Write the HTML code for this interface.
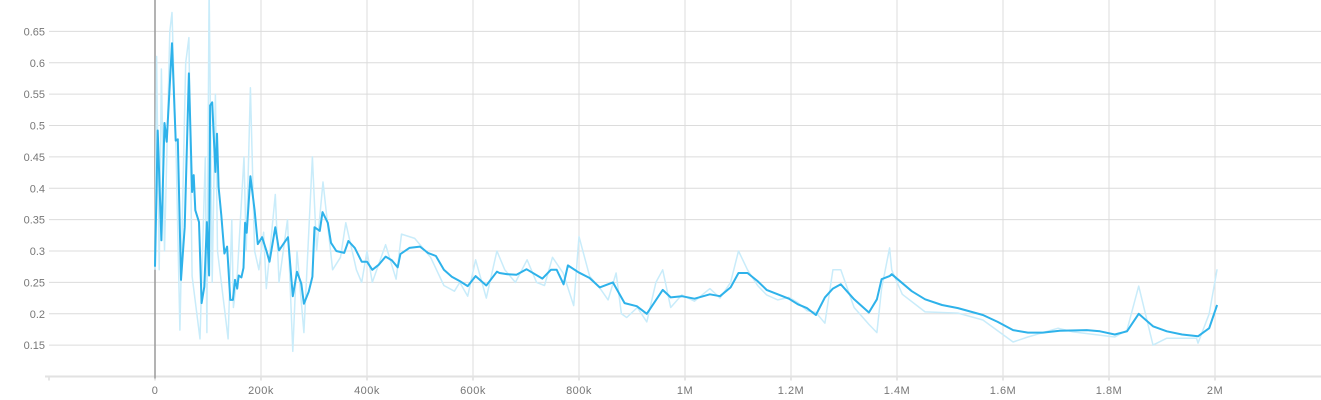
<!DOCTYPE html>
<html><head><meta charset="utf-8"><style>
html,body{margin:0;padding:0;background:#fff;width:1321px;height:400px;overflow:hidden}
svg{display:block;font-family:"Liberation Sans",sans-serif}
</style></head><body>
<svg id="chart" width="1321" height="400" viewBox="0 0 1321 400">
<g id="grid"></g>
<g id="axes"></g>
<g id="series"></g>
</svg>
<script>
const smoothSteps=[0,5,12,18,22,32,39,43,49,56,64,70,73,76,83,88,93,98,102,104,108,114,117,120,125,131,136,142,147,151,155,158,163,167,170,173,180,188,194,202,210,216,227,234,251,260,268,276,281,290,297,301,311,316,326,332,342,357,365,377,390,400,410,422,435,447,458,463,480,500,515,530,545,560,575,590,605,625,645,650,665,682,701,731,747,758,771,779,799,820,839,864,886,909,928,958,973,994,1018,1047,1066,1086,1101,1118,1137,1154,1175,1196,1213,1230,1247,1264,1279,1294,1319,1347,1362,1371,1386,1390,1428,1453,1485,1515,1562,1590,1619,1647,1675,1707,1758,1783,1811,1834,1856,1883,1909,1938,1968,1989,2004];
const smoothValues=[0.275,0.492,0.317,0.504,0.474,0.631,0.476,0.478,0.254,0.338,0.583,0.394,0.421,0.365,0.346,0.217,0.243,0.346,0.261,0.532,0.537,0.426,0.487,0.402,0.357,0.296,0.307,0.222,0.222,0.254,0.24,0.261,0.258,0.273,0.345,0.329,0.419,0.365,0.311,0.322,0.301,0.283,0.338,0.301,0.322,0.228,0.267,0.248,0.216,0.235,0.259,0.338,0.332,0.362,0.345,0.313,0.3,0.297,0.316,0.305,0.283,0.283,0.27,0.278,0.291,0.285,0.274,0.295,0.305,0.307,0.297,0.292,0.27,0.259,0.252,0.244,0.26,0.245,0.267,0.265,0.263,0.262,0.271,0.256,0.27,0.27,0.247,0.277,0.266,0.257,0.242,0.25,0.217,0.212,0.2,0.238,0.226,0.228,0.224,0.231,0.228,0.242,0.265,0.265,0.252,0.238,0.231,0.224,0.215,0.209,0.198,0.226,0.24,0.247,0.223,0.202,0.223,0.255,0.26,0.263,0.236,0.223,0.214,0.209,0.198,0.187,0.174,0.17,0.17,0.173,0.174,0.172,0.167,0.172,0.2,0.18,0.172,0.167,0.164,0.177,0.214];
const rawSteps=[0,3,8,12,18,28,32,40,47,58,64,70,85,95,98,102,108,114,118,135,138,145,148,155,168,172,180,188,196,205,210,227,234,250,260,268,281,297,305,317,335,350,360,380,390,400,410,435,455,465,490,520,545,565,575,590,605,625,645,660,680,702,720,735,750,770,790,800,820,840,855,870,880,890,910,928,945,958,973,994,1018,1047,1066,1086,1101,1118,1137,1154,1175,1196,1213,1230,1247,1264,1279,1294,1319,1347,1362,1371,1386,1390,1410,1453,1515,1562,1619,1647,1704,1732,1811,1834,1856,1883,1909,1965,1968,1989,2004];
const rawValues=[0.27,0.61,0.27,0.59,0.3,0.65,0.68,0.45,0.174,0.6,0.64,0.26,0.16,0.45,0.17,0.72,0.25,0.55,0.3,0.18,0.16,0.35,0.21,0.26,0.45,0.3,0.56,0.3,0.27,0.33,0.24,0.39,0.25,0.35,0.14,0.3,0.17,0.45,0.3,0.41,0.27,0.29,0.345,0.27,0.25,0.3,0.25,0.31,0.255,0.327,0.32,0.29,0.245,0.236,0.25,0.228,0.286,0.225,0.3,0.27,0.25,0.286,0.25,0.245,0.29,0.265,0.213,0.323,0.26,0.24,0.222,0.265,0.2,0.194,0.21,0.187,0.25,0.27,0.21,0.23,0.22,0.24,0.225,0.25,0.3,0.27,0.245,0.23,0.222,0.226,0.218,0.205,0.202,0.185,0.27,0.27,0.21,0.183,0.17,0.24,0.305,0.27,0.231,0.203,0.201,0.19,0.155,0.163,0.177,0.171,0.163,0.174,0.244,0.15,0.161,0.161,0.153,0.2,0.271];
const yTicks=[0.15,0.2,0.25,0.3,0.35,0.4,0.45,0.5,0.55,0.6,0.65];
const yTickLabels=["0.15","0.2","0.25","0.3","0.35","0.4","0.45","0.5","0.55","0.6","0.65"];
const xTicks=[0,200,400,600,800,1000,1200,1400,1600,1800,2000];
const xTickLabels=["0","200k","400k","600k","800k","1M","1.2M","1.4M","1.6M","1.8M","2M"];

const NS="http://www.w3.org/2000/svg";
const X0=49,X1=1321,Y0=0,Y1=376.5;
const xMin=-200,xMax=2200,yMin=0.1,yMax=0.7;
function sx(v){return X0+(v-xMin)/(xMax-xMin)*(X1-X0);}
function sy(v){return Y1-(v-yMin)/(yMax-yMin)*(Y1-Y0);}
function mk(tag,attrs,parent){const e=document.createElementNS(NS,tag);for(const k in attrs)e.setAttribute(k,attrs[k]);parent.appendChild(e);return e;}
const grid=document.getElementById('grid'),axes=document.getElementById('axes'),series=document.getElementById('series');

yTicks.forEach((t,i)=>{
  const l=mk('line',{x1:X0,x2:X1,y1:sy(t),y2:sy(t),stroke:'#dcdcdc','stroke-width':1},grid);
  
  
  const tx=mk('text',{x:45,y:sy(t)+4,'text-anchor':'end','font-size':11,fill:'#777'},axes);
  tx.textContent=yTickLabels[i];
  
  
});
xTicks.forEach((t,i)=>{
  if(t!==0){
    const l=mk('line',{x1:sx(t),x2:sx(t),y1:Y0,y2:Y1,stroke:'#dcdcdc','stroke-width':1},grid);
    
    
  }
  const tk=mk('line',{x1:sx(t),x2:sx(t),y1:Y1,y2:Y1+4,stroke:'#ccc'},axes);
  
  
  const tx=mk('text',{x:sx(t),y:394,'text-anchor':'middle','font-size':11,fill:'#777','letter-spacing':'0.5'},axes);
  tx.textContent=xTickLabels[i];
  
  
});
const ml=mk('line',{x1:sx(xMin),x2:sx(xMin),y1:Y1,y2:Y1+4,stroke:'#ccc'},axes);


const xa=mk('line',{x1:X0-4,x2:X1,y1:Y1,y2:Y1,stroke:'#e2e2e2','stroke-width':2},axes);


const za=mk('line',{x1:sx(0),x2:sx(0),y1:0,y2:Y1+2,stroke:'#9a9a9a','stroke-width':1.5},axes);



function pts(s,v){return s.map((st,i)=>sx(st).toFixed(1)+','+sy(v[i]).toFixed(1)).join(' ');}
const raw=mk('polyline',{points:pts(rawSteps,rawValues),fill:'none',stroke:'#c9ecfa','stroke-width':1.5,'stroke-linejoin':'round'},series);


const sm=mk('polyline',{points:pts(smoothSteps,smoothValues),fill:'none',stroke:'#2eb2ea','stroke-width':2,'stroke-linejoin':'round'},series);


</script>
</body></html>
